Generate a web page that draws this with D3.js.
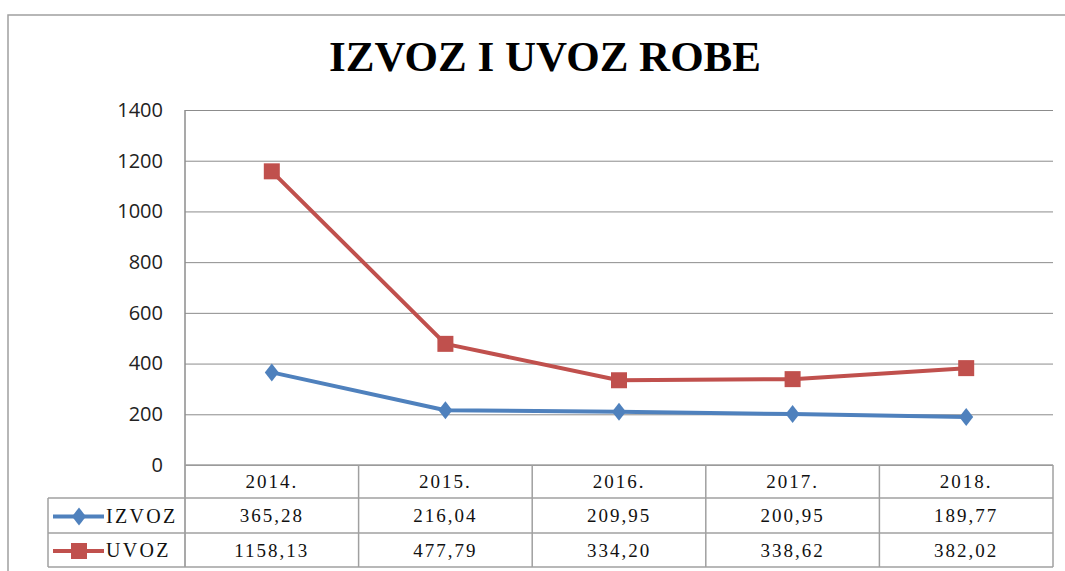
<!DOCTYPE html>
<html>
<head>
<meta charset="utf-8">
<script src="https://cdn.jsdelivr.net/npm/d3@7"></script>
<style>
  body { margin: 0; background: #fff; }
  svg { display: block; }
</style>
</head>
<body>
<svg width="1065" height="571"></svg>
<script>
var years = ["2014.", "2015.", "2016.", "2017.", "2018."];
var izvoz = [365.28, 216.04, 209.95, 200.95, 189.77];
var uvoz = [1158.13, 477.79, 334.20, 338.62, 382.02];
var izvozLabels = ["365,28", "216,04", "209,95", "200,95", "189,77"];
var uvozLabels = ["1158,13", "477,79", "334,20", "338,62", "382,02"];
var yTicks = [0, 200, 400, 600, 800, 1000, 1200, 1400];

var svg = d3.select("svg"),
  plotLeft = 185, plotRight = 1053, plotTop = 110, plotBottom = 465,
  tableLeft = 48, rowLines = [465, 498, 533, 567];

var blue = "#4f81bd", red = "#c0504d", grid = "#8c8c8c", border = "#a0a0a0";

var x = d3.scaleBand().domain(years).range([plotLeft, plotRight]);
var y = d3.scaleLinear().domain([0, 1400]).range([plotBottom, plotTop]);

// outer frame
svg.append("rect")
  .attr("x", 8).attr("y", 15)
  .attr("width", 1080).attr("height", 600)
  .style("fill", "none").style("stroke", border).style("stroke-width", 1.5);

// title
svg.append("text")
  .attr("x", 545).attr("y", 71)
  .attr("text-anchor", "middle")
  .style("font-family", "Liberation Serif")
  .style("font-weight", "bold")
  .style("font-size", "43px")
  .text("IZVOZ I UVOZ ROBE");

// gridlines
svg.append("g")
  .attr("transform", "translate(" + plotLeft + ",0)")
  .call(d3.axisLeft(y).tickValues(yTicks).tickSize(-(plotRight - plotLeft)).tickFormat(""))
  .call(function(g) { g.select(".domain").remove(); })
  .selectAll("line")
  .style("stroke", grid);

// y labels
svg.append("g")
  .attr("transform", "translate(163,0)")
  .call(d3.axisLeft(y).tickValues(yTicks).tickSize(0).tickPadding(0).tickFormat(d3.format("d")))
  .call(function(g) { g.select(".domain").remove(); })
  .selectAll("text")
  .style("font-family", "Open Sans")
  .style("font-size", "20px")
  .style("fill", "#222");

// y axis line (runs down through table)
svg.append("line")
  .attr("x1", plotLeft).attr("x2", plotLeft)
  .attr("y1", plotTop).attr("y2", rowLines[3])
  .style("stroke", grid).style("stroke-width", 1.5);

// table lines
var table = svg.append("g").style("stroke", border).style("stroke-width", 1.5);
table.append("line").attr("x1", plotLeft).attr("x2", plotRight).attr("y1", rowLines[0]).attr("y2", rowLines[0]);
rowLines.slice(1).forEach(function(r) {
  table.append("line").attr("x1", tableLeft).attr("x2", plotRight).attr("y1", r).attr("y2", r);
});
table.append("line").attr("x1", tableLeft).attr("x2", tableLeft).attr("y1", rowLines[1]).attr("y2", rowLines[3]);
years.forEach(function(d) {
  var xr = x(d) + x.bandwidth();
  table.append("line").attr("x1", xr).attr("x2", xr).attr("y1", rowLines[0]).attr("y2", rowLines[3]);
});

function cellText(vals, yc) {
  svg.append("g").selectAll("text")
    .data(vals)
    .enter().append("text")
    .attr("x", function(d, i) { return x(years[i]) + x.bandwidth() / 2; })
    .attr("y", yc)
    .attr("dy", "0.35em")
    .attr("text-anchor", "middle")
    .style("font-family", "Liberation Serif")
    .style("font-size", "19px")
    .style("letter-spacing", "2px")
    .style("fill", "#111")
    .text(function(d) { return d; });
}
cellText(years, (rowLines[0] + rowLines[1]) / 2);
cellText(izvozLabels, (rowLines[1] + rowLines[2]) / 2);
cellText(uvozLabels, (rowLines[2] + rowLines[3]) / 2);

var diamond = function(cx, cy) {
  return "M" + cx + "," + (cy - 9) + "L" + (cx + 7) + "," + cy + "L" + cx + "," + (cy + 9) + "L" + (cx - 7) + "," + cy + "Z";
};

var line = d3.line()
  .x(function(d, i) { return x(years[i]) + x.bandwidth() / 2; })
  .y(function(d) { return y(d); });

// IZVOZ series
svg.append("path").datum(izvoz)
  .attr("d", line)
  .style("fill", "none").style("stroke", blue).style("stroke-width", 4)
  .style("stroke-linejoin", "round");
svg.append("g").selectAll("path")
  .data(izvoz)
  .enter().append("path")
  .attr("d", function(d, i) { return diamond(x(years[i]) + x.bandwidth() / 2, y(d)); })
  .style("fill", blue);

// UVOZ series
svg.append("path").datum(uvoz)
  .attr("d", line)
  .style("fill", "none").style("stroke", red).style("stroke-width", 4)
  .style("stroke-linejoin", "round");
svg.append("g").selectAll("rect")
  .data(uvoz)
  .enter().append("rect")
  .attr("x", function(d, i) { return x(years[i]) + x.bandwidth() / 2 - 8; })
  .attr("y", function(d) { return y(d) - 8; })
  .attr("width", 16).attr("height", 16)
  .style("fill", red);

// legend keys in table
var legend = [
  { name: "IZVOZ", color: blue, yc: (rowLines[1] + rowLines[2]) / 2 },
  { name: "UVOZ", color: red, yc: (rowLines[2] + rowLines[3]) / 2 }
];
legend.forEach(function(l, i) {
  svg.append("line")
    .attr("x1", 53).attr("x2", 104).attr("y1", l.yc + 1).attr("y2", l.yc + 1)
    .style("stroke", l.color).style("stroke-width", 4);
  if (i === 0) {
    svg.append("path").attr("d", diamond(79, l.yc + 1)).style("fill", l.color);
  } else {
    svg.append("rect").attr("x", 71).attr("y", l.yc - 7).attr("width", 16).attr("height", 16).style("fill", l.color);
  }
  svg.append("text")
    .attr("x", 106).attr("y", l.yc)
    .attr("dy", "0.35em")
    .style("font-family", "Liberation Serif")
    .style("font-size", "20px")
    .style("letter-spacing", "2.3px")
    .style("fill", "#111")
    .text(l.name);
});
</script>
</body>
</html>
